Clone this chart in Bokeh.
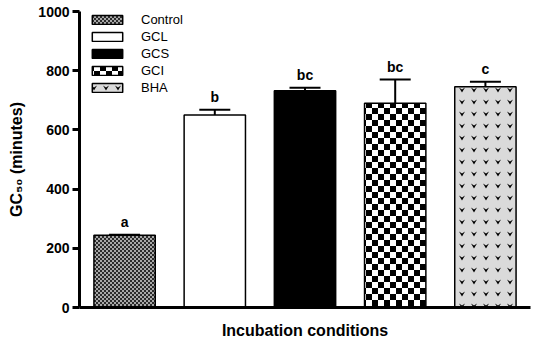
import base64
from bokeh.plotting import figure
from bokeh.models import (ColumnDataSource, Range1d, FixedTicker, Whisker, TeeHead,
                          ImageURLTexture)
from bokeh.embed import file_html
from bokeh.resources import INLINE
from bokeh.core.properties import value

categories = ["Control", "GCL", "GCS", "GCI", "BHA"]
gc50 = [244, 650, 732, 690, 746]
sem = [2, 18, 10, 80, 17]
letters = ["a", "b", "bc", "bc", "c"]
y_ticks = [0, 200, 400, 600, 800, 1000]

FONT = "Liberation Sans"


def svg_url(svg):
    return "data:image/svg+xml;base64," + base64.b64encode(svg.encode()).decode()


tex_control = svg_url(
    '<svg xmlns="http://www.w3.org/2000/svg" width="4" height="4">'
    '<rect width="4" height="4" fill="#2b2b2b"/>'
    '<rect x="0" y="0" width="2" height="2" fill="#a8a8a8"/>'
    '<rect x="2" y="2" width="2" height="2" fill="#a8a8a8"/></svg>')
tex_gci = svg_url(
    '<svg xmlns="http://www.w3.org/2000/svg" width="12" height="12">'
    '<rect width="12" height="12" fill="white"/>'
    '<rect x="0" y="0" width="6" height="6" fill="black"/>'
    '<rect x="6" y="6" width="6" height="6" fill="black"/></svg>')
tex_bha = svg_url(
    '<svg xmlns="http://www.w3.org/2000/svg" width="12" height="12">'
    '<rect width="12" height="12" fill="#dadada"/>'
    '<path d="M3,3.5 L6,8.5 L9,3.5 L6,5.5 Z" fill="black"/></svg>')

x = [i + 0.5 for i in range(len(categories))]
upper = [v + e for v, e in zip(gc50, sem)]
fill_colors = ["#444444", "white", "black", "white", "#dadada"]
patterns = ["ctl", "blank", "blank", "chk", "bha"]

src = ColumnDataSource(dict(x=x, cat=categories, top=gc50, upper=upper,
                            letter=letters, fill=fill_colors, pat=patterns))

p = figure(width=534, height=341, output_backend="svg", toolbar_location=None,
           x_range=Range1d(0, 5), y_range=Range1d(0, 1000),
           min_border_left=79, min_border_right=4, min_border_top=11,
           min_border_bottom=33)
p.outline_line_color = None
p.grid.visible = False
p.background_fill_color = "white"
p.border_fill_color = "white"

p.vbar(x="x", top="top", width=0.68, source=src, fill_color="fill",
       line_color="black", line_width=1.5, hatch_pattern="pat",
       hatch_extra={"ctl": ImageURLTexture(url=tex_control),
                    "chk": ImageURLTexture(url=tex_gci),
                    "bha": ImageURLTexture(url=tex_bha)},
       legend_field="cat")

wh = Whisker(base="x", lower="top", upper="upper", source=src, line_width=2,
             line_color="black", lower_head=None,
             upper_head=TeeHead(size=31, line_width=2, line_color="black"))
p.add_layout(wh)

p.text(x="x", y="upper", text="letter", source=src, text_align="center",
       text_baseline="bottom", y_offset=-5, text_font=value(FONT),
       text_font_style="bold", text_font_size="14px", text_color="black")

# axes
ya = p.yaxis[0]
ya.ticker = FixedTicker(ticks=y_ticks)
ya.minor_tick_line_color = None
ya.axis_line_width = 3
ya.major_tick_line_width = 3
ya.major_tick_out = 7
ya.major_tick_in = 0
ya.major_label_standoff = 3
ya.major_label_text_font = FONT
ya.major_label_text_font_style = "bold"
ya.major_label_text_font_size = "14px"
ya.major_label_text_color = "black"
ya.axis_label = "GC\u2085\u2080 (minutes)"
ya.axis_label_text_font = FONT
ya.axis_label_text_font_style = "bold"
ya.axis_label_text_font_size = "16px"
ya.axis_label_standoff = 10
ya.axis_label_text_color = "black"

xa = p.xaxis[0]
xa.ticker = FixedTicker(ticks=[])
xa.minor_tick_line_color = None
xa.axis_line_width = 3
xa.axis_label = "Incubation conditions"
xa.axis_label_text_font = FONT
xa.axis_label_text_font_style = "bold"
xa.axis_label_text_font_size = "16px"
xa.axis_label_standoff = 14
xa.axis_label_text_color = "black"

# legend
lg = p.legend[0]
lg.location = (9, 212)
lg.border_line_color = None
lg.background_fill_alpha = 0
lg.padding = 0
lg.margin = 0
lg.spacing = 1
lg.glyph_width = 38
lg.glyph_height = 11
lg.label_height = 16
lg.label_standoff = 15
lg.label_text_font = FONT
lg.label_text_font_size = "13px"
lg.label_text_color = "black"

open("out.html", "w").write(file_html(p, INLINE))
